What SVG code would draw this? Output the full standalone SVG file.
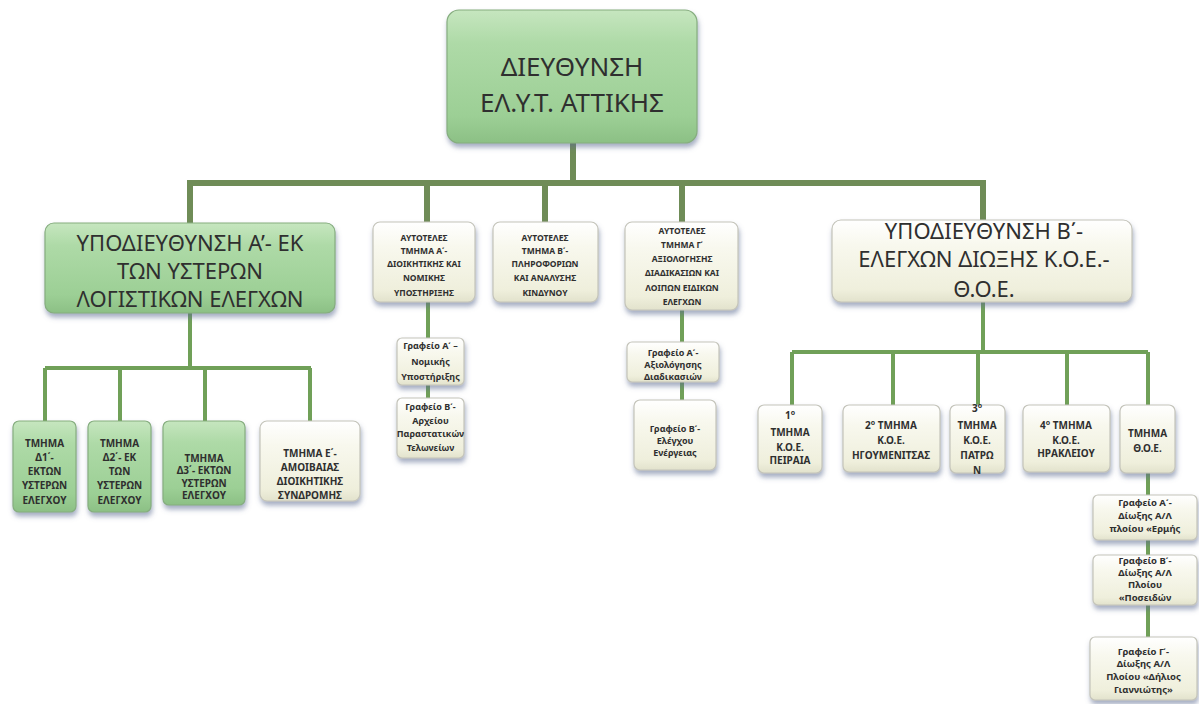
<svg xmlns="http://www.w3.org/2000/svg" width="1199" height="704" viewBox="0 0 1199 704">
<defs>
<linearGradient id="gGreen" x1="0" y1="0" x2="0" y2="1">
<stop offset="0" stop-color="#c6e6bf"/>
<stop offset="0.25" stop-color="#aedaa7"/>
<stop offset="0.8" stop-color="#9ccf95"/>
<stop offset="1" stop-color="#8cc085"/>
</linearGradient>
<linearGradient id="gCream" x1="0" y1="0" x2="0" y2="1">
<stop offset="0" stop-color="#ffffff"/>
<stop offset="0.3" stop-color="#f8f8ee"/>
<stop offset="0.85" stop-color="#efefdc"/>
<stop offset="1" stop-color="#e2e2cc"/>
</linearGradient>
<filter id="sh" x="-20%" y="-20%" width="140%" height="150%">
<feDropShadow dx="1" dy="4" stdDeviation="2.5" flood-color="#5d6d92" flood-opacity="0.55"/>
</filter>
</defs>
<style>
.g{fill:url(#gGreen);stroke:#86ad7f;stroke-width:1.2;filter:url(#sh)}
.c{fill:url(#gCream);stroke:#c4c4ba;stroke-width:1.2;filter:url(#sh)}
text{font-family:"Noto Sans","DejaVu Sans",sans-serif;fill:#2f2f2f;text-anchor:middle}
.t1{font-size:26px}
.t2{font-size:22px}
.t3{font-size:22px}
.s{font-size:8.5px;font-weight:bold}
.m{font-size:10px;font-weight:bold}
.r{font-size:9.5px;font-weight:bold}
.f{font-size:9px;font-weight:bold}
.sup{font-size:7px}
.ln{stroke:#70a058;stroke-width:4;fill:none}
.lt{stroke:#6f8c57;stroke-width:6;fill:none}
</style>
<rect width="1199" height="704" fill="#ffffff"/>

<g id="connectors">
<path class="lt" d="M573 143V183M187 183H986"/>
<path class="lt" d="M190 183V223M427 183V222M545 183V222M682 183V222M983 183V220"/>
<path class="ln" d="M190 313V368M45 368H311M45 368V421M120 368V421M205 368V421M310 368V421"/>
<path class="ln" d="M428 302V338M428 385V398"/>
<path class="ln" d="M682 310V342M682 382V400"/>
<path class="ln" d="M983 302V352M792 352H1148M792 352V405M893 352V405M978 352V405M1067 352V405M1148 352V405"/>
<path class="ln" d="M1148 473V495M1148 540V555M1148 605V637"/>
</g>

<g id="n-top">
<rect class="g" x="447" y="10" width="250" height="133" rx="12"/>
<text class="t1" x="572" y="76">ΔΙΕΥΘΥΝΣΗ</text>
<text class="t1" x="572" y="112">ΕΛ.Υ.Τ. ΑΤΤΙΚΗΣ</text>
</g>

<g id="n-subA">
<rect class="g" x="45" y="223" width="290" height="90" rx="9"/>
<text class="t2" x="190" y="251">ΥΠΟΔΙΕΥΘΥΝΣΗ Α’- ΕΚ</text>
<text class="t2" x="190" y="279">ΤΩΝ ΥΣΤΕΡΩΝ</text>
<text class="t2" x="190" y="307">ΛΟΓΙΣΤΙΚΩΝ ΕΛΕΓΧΩΝ</text>
</g>

<g id="n-autoA">
<rect class="c" x="373" y="222" width="102" height="80" rx="7"/>
<text class="s" x="424" y="240.5">ΑΥΤΟΤΕΛΕΣ</text>
<text class="s" x="424" y="253.5">ΤΜΗΜΑ Α΄-</text>
<text class="s" x="424" y="266.5">ΔΙΟΙΚΗΤΙΚΗΣ ΚΑΙ</text>
<text class="s" x="424" y="280.5">ΝΟΜΙΚΗΣ</text>
<text class="s" x="424" y="295.5">ΥΠΟΣΤΗΡΙΞΗΣ</text>
</g>

<g id="n-autoB">
<rect class="c" x="493" y="222" width="105" height="80" rx="7"/>
<text class="s" x="545" y="240.5">ΑΥΤΟΤΕΛΕΣ</text>
<text class="s" x="545" y="253.5">ΤΜΗΜΑ Β΄-</text>
<text class="s" x="545" y="266.5">ΠΛΗΡΟΦΟΡΙΩΝ</text>
<text class="s" x="545" y="280.5">ΚΑΙ ΑΝΑΛΥΣΗΣ</text>
<text class="s" x="545" y="295.5">ΚΙΝΔΥΝΟΥ</text>
</g>

<g id="n-autoG">
<rect class="c" x="625" y="222" width="113" height="88" rx="7"/>
<text class="s" x="682" y="233.5">ΑΥΤΟΤΕΛΕΣ</text>
<text class="s" x="682" y="247.8">ΤΜΗΜΑ Γ΄</text>
<text class="s" x="682" y="262.1">ΑΞΙΟΛΟΓΗΣΗΣ</text>
<text class="s" x="682" y="276.4">ΔΙΑΔΙΚΑΣΙΩΝ ΚΑΙ</text>
<text class="s" x="682" y="290.7">ΛΟΙΠΩΝ ΕΙΔΙΚΩΝ</text>
<text class="s" x="682" y="305">ΕΛΕΓΧΩΝ</text>
</g>

<g id="n-subB">
<rect class="c" x="832" y="220" width="300" height="82" rx="9"/>
<text class="t3" x="984" y="239">ΥΠΟΔΙΕΥΘΥΝΣΗ Β΄-</text>
<text class="t3" x="984" y="267">ΕΛΕΓΧΩΝ ΔΙΩΞΗΣ Κ.Ο.Ε.-</text>
<text class="t3" x="984" y="297">Θ.Ο.Ε.</text>
</g>

<g id="n-d1">
<rect class="g" x="13" y="421" width="63" height="91" rx="6"/>
<text class="m" x="44.5" y="446.5">ΤΜΗΜΑ</text>
<text class="m" x="44.5" y="460.8">Δ1΄-</text>
<text class="m" x="44.5" y="475.1">ΕΚΤΩΝ</text>
<text class="m" x="44.5" y="489.4">ΥΣΤΕΡΩΝ</text>
<text class="m" x="44.5" y="503.7">ΕΛΕΓΧΟΥ</text>
</g>

<g id="n-d2">
<rect class="g" x="88" y="421" width="63" height="91" rx="6"/>
<text class="m" x="119.5" y="446.5">ΤΜΗΜΑ</text>
<text class="m" x="119.5" y="460.8">Δ2΄- ΕΚ</text>
<text class="m" x="119.5" y="475.1">ΤΩΝ</text>
<text class="m" x="119.5" y="489.4">ΥΣΤΕΡΩΝ</text>
<text class="m" x="119.5" y="503.7">ΕΛΕΓΧΟΥ</text>
</g>

<g id="n-d3">
<rect class="g" x="163" y="421" width="82" height="84" rx="6"/>
<text class="m" x="204" y="461.5">ΤΜΗΜΑ</text>
<text class="m" x="204" y="474">Δ3΄- ΕΚΤΩΝ</text>
<text class="m" x="204" y="486.5">ΥΣΤΕΡΩΝ</text>
<text class="m" x="204" y="499">ΕΛΕΓΧΟΥ</text>
</g>

<g id="n-e">
<rect class="c" x="260" y="421" width="100" height="80" rx="7"/>
<text class="m" x="310" y="457">ΤΜΗΜΑ Ε΄-</text>
<text class="m" x="310" y="471">ΑΜΟΙΒΑΙΑΣ</text>
<text class="m" x="310" y="485">ΔΙΟΙΚΗΤΙΚΗΣ</text>
<text class="m" x="310" y="499">ΣΥΝΔΡΟΜΗΣ</text>
</g>

<g id="n-grA">
<rect class="c" x="397" y="338" width="67" height="47" rx="5"/>
<text class="f" x="430.5" y="348.5">Γραφείο Α΄ –</text>
<text class="f" x="430.5" y="364.5">Νομικής</text>
<text class="f" x="430.5" y="380">Υποστήριξης</text>
</g>

<g id="n-grB">
<rect class="c" x="397" y="398" width="67" height="60" rx="5"/>
<text class="f" x="430.5" y="410">Γραφείο Β΄-</text>
<text class="f" x="430.5" y="423.5">Αρχείου</text>
<text class="f" x="430.5" y="437">Παραστατικών</text>
<text class="f" x="430.5" y="451">Τελωνείων</text>
</g>

<g id="n-grA2">
<rect class="c" x="627" y="342" width="92" height="40" rx="5"/>
<text class="f" x="673" y="355.5">Γραφείο Α΄-</text>
<text class="f" x="673" y="367.5">Αξιολόγησης</text>
<text class="f" x="673" y="379.5">Διαδικασιών</text>
</g>

<g id="n-grB2">
<rect class="c" x="634" y="400" width="82" height="70" rx="6"/>
<text class="f" x="675" y="431.5">Γραφείο Β΄-</text>
<text class="f" x="675" y="443.5">Ελέγχου</text>
<text class="f" x="675" y="455.5">Ενέργειας</text>
</g>

<g id="n-k1">
<rect class="c" x="758" y="405" width="64" height="68" rx="6"/>
<text class="m" x="790" y="418.5">1<tspan class="sup" dy="-4">ο</tspan></text>
<text class="m" x="790" y="435.5">ΤΜΗΜΑ</text>
<text class="m" x="790" y="450.5">Κ.Ο.Ε.</text>
<text class="m" x="790" y="463.5">ΠΕΙΡΑΙΑ</text>
</g>

<g id="n-k2">
<rect class="c" x="843" y="405" width="97" height="67" rx="6"/>
<text class="m" x="891" y="428.5">2<tspan class="sup" dy="-4">ο</tspan><tspan dy="4"> ΤΜΗΜΑ</tspan></text>
<text class="m" x="891" y="443.5">Κ.Ο.Ε.</text>
<text class="m" x="891" y="458.5">ΗΓΟΥΜΕΝΙΤΣΑΣ</text>
</g>

<g id="n-k3">
<rect class="c" x="950" y="405" width="55" height="68" rx="6"/>
<text class="m" x="977" y="411.5">3<tspan class="sup" dy="-4">ο</tspan></text>
<text class="m" x="977" y="428.5">ΤΜΗΜΑ</text>
<text class="m" x="977" y="443.5">Κ.Ο.Ε.</text>
<text class="m" x="977" y="458.5">ΠΑΤΡΩ</text>
<text class="m" x="977" y="473.5">Ν</text>
</g>

<g id="n-k4">
<rect class="c" x="1023" y="405" width="87" height="67" rx="6"/>
<text class="m" x="1066" y="428.5">4<tspan class="sup" dy="-4">ο</tspan><tspan dy="4"> ΤΜΗΜΑ</tspan></text>
<text class="m" x="1066" y="443.5">Κ.Ο.Ε.</text>
<text class="m" x="1066" y="456.5">ΗΡΑΚΛΕΙΟΥ</text>
</g>

<g id="n-thoe">
<rect class="c" x="1120" y="405" width="55" height="68" rx="6"/>
<text class="m" x="1147.5" y="436.5">ΤΜΗΜΑ</text>
<text class="m" x="1147.5" y="451.5">Θ.Ο.Ε.</text>
</g>

<g id="n-gr1">
<rect class="c" x="1093" y="495" width="104" height="45" rx="5"/>
<text class="r" x="1145" y="505.5">Γραφείο Α΄-</text>
<text class="r" x="1145" y="518.5">Δίωξης Α/Λ</text>
<text class="r" x="1145" y="531.5">πλοίου «Ερμής</text>
</g>

<g id="n-gr2">
<rect class="c" x="1093" y="555" width="104" height="50" rx="5"/>
<text class="r" x="1145" y="563.5">Γραφείο Β΄-</text>
<text class="r" x="1145" y="575.5">Δίωξης Α/Λ</text>
<text class="r" x="1145" y="588">Πλοίου</text>
<text class="r" x="1145" y="600.5">«Ποσειδών</text>
</g>

<g id="n-gr3">
<rect class="c" x="1090" y="637" width="107" height="63" rx="5"/>
<text class="r" x="1143.5" y="654.5">Γραφείο Γ΄-</text>
<text class="r" x="1143.5" y="667">Δίωξης Α/Λ</text>
<text class="r" x="1143.5" y="680">Πλοίου «Δήλιος</text>
<text class="r" x="1143.5" y="693">Γιαννιώτης»</text>
</g>
</svg>
